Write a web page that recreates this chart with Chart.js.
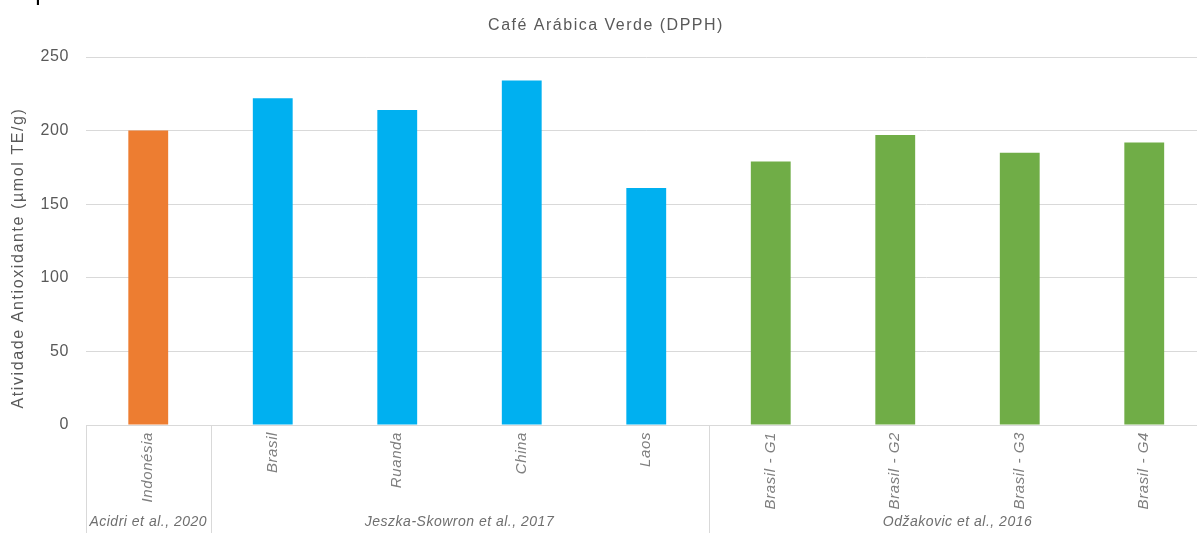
<!DOCTYPE html>
<html>
<head>
<meta charset="utf-8">
<script src="https://cdn.jsdelivr.net/npm/chart.js@4"></script>
<style>
  html, body { margin: 0; padding: 0; background: #fff; overflow: hidden; }
  #wrap { position: relative; width: 1197px; height: 533px; overflow: hidden; }
  #cut { position: absolute; left: 2px; top: -22px; font: 24px "Liberation Sans", Arial, sans-serif; color: #000; white-space: nowrap; }
  canvas { position: absolute; left: 0; top: 0; }
</style>
</head>
<body>
<div id="wrap">
  <canvas id="chart" width="1210" height="533"></canvas>
  <div id="cut">respectivamente.</div>
</div>
<script>
// values
const categories = ['Indonésia', 'Brasil', 'Ruanda', 'China', 'Laos', 'Brasil - G1', 'Brasil - G2', 'Brasil - G3', 'Brasil - G4'];
const dpphValues = [200, 222, 214, 234, 161, 179, 197, 185, 192];
const groupNames = ['Acidri et al., 2020', 'Jeszka-Skowron et al., 2017', 'Odžakovic et al., 2016'];
const groupOfCategory = [0, 1, 1, 1, 1, 2, 2, 2, 2];
const yTicks = [0, 50, 100, 150, 200, 250];

const groupColors = ['#ED7D31', '#00B0F0', '#70AD47'];
const FONT = '"Liberation Sans", Arial, sans-serif';

// study names under the rotated labels, separators between groups, titles
const decorPlugin = {
  id: 'decor',
  beforeDraw(chart) {
    chart.ctx.letterSpacing = '0.6px';
  },
  afterDraw(chart) {
    const ctx = chart.ctx;
    const x = chart.scales.x;
    const top = x.top;
    const bottom = chart.height;
    const step = x.getPixelForTick(1) - x.getPixelForTick(0);
    ctx.save();
    ctx.strokeStyle = '#d9d9d9';
    ctx.lineWidth = 1;
    ctx.letterSpacing = '0.5px';
    ctx.font = 'italic 14px ' + FONT;
    ctx.fillStyle = '#6f6f6f';
    ctx.textAlign = 'center';
    ctx.textBaseline = 'middle';
    groupNames.forEach((name, g) => {
      const idx = groupOfCategory.map((v, i) => v === g ? i : -1).filter(i => i >= 0);
      const first = idx[0], last = idx[idx.length - 1];
      const left = x.getPixelForTick(first) - step / 2;
      const right = x.getPixelForTick(last) + step / 2;
      const lx = Math.round(left) + 0.5;
      ctx.beginPath();
      ctx.moveTo(lx, top);
      ctx.lineTo(lx, bottom);
      ctx.stroke();
      ctx.fillText(name, (left + right) / 2, 522);
    });

    ctx.fillStyle = '#595959';
    ctx.font = '16px ' + FONT;
    ctx.letterSpacing = '1.5px';
    ctx.fillText('Café Arábica Verde (DPPH)', 606, 26);

    ctx.translate(19, 258);
    ctx.rotate(-Math.PI / 2);
    ctx.letterSpacing = '1.6px';
    ctx.fillText('Atividade Antioxidante (µmol TE/g)', 0, 0);
    ctx.restore();
  }
};

new Chart(document.getElementById('chart'), {
  type: 'bar',
  data: {
    labels: categories,
    datasets: [{
      label: 'DPPH',
      data: dpphValues,
      backgroundColor: groupOfCategory.map(g => groupColors[g]),
      borderWidth: 0,
      barPercentage: 0.32,
      categoryPercentage: 1
    }]
  },
  options: {
    responsive: false,
    animation: false,
    layout: { padding: { top: 57, right: 3.5, left: 0, bottom: 0 } },
    plugins: {
      legend: { display: false },
      tooltip: { enabled: false },
      title: { display: false }
    },
    scales: {
      x: {
        grid: { display: false, drawTicks: false },
        border: { display: true, color: '#d9d9d9' },
        ticks: {
          minRotation: 90,
          maxRotation: 90,
          padding: 7,
          color: '#7f7f7f',
          font: { family: FONT, size: 15, style: 'italic' }
        },
        afterFit(scale) { scale.height = 108; }
      },
      y: {
        min: 0,
        max: 250,
        afterBuildTicks(scale) { scale.ticks = yTicks.map(v => ({ value: v })); },
        grid: { color: '#d9d9d9', drawTicks: false },
        border: { display: false },
        ticks: {
          padding: 17,
          color: '#595959',
          font: { family: FONT, size: 16 }
        },
        afterFit(scale) { scale.width = 86; }
      }
    }
  },
  plugins: [decorPlugin]
});
</script>
</body>
</html>
